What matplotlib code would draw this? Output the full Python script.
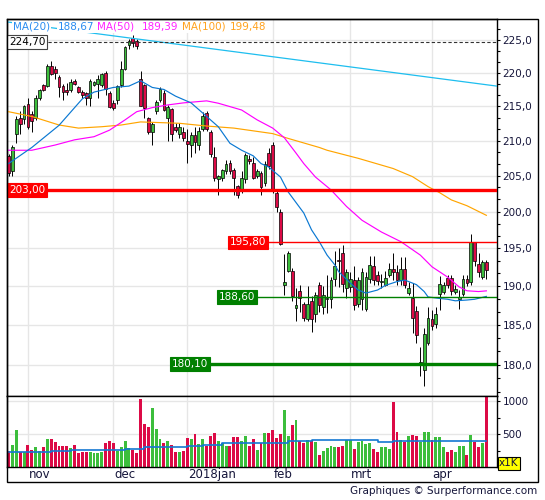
import numpy as np
import matplotlib
matplotlib.use("Agg")
import matplotlib.pyplot as plt
from matplotlib import transforms
from matplotlib.ticker import FixedLocator, FuncFormatter, NullFormatter
from matplotlib.patches import Rectangle

# daily candles 25 okt 2017 .. 23 apr 2018
opens = [207.8, 205.6, 210.9, 213.3, 213.1, 215.4, 213.8, 213.3, 216.2, 218.2,
         218.0, 221.0, 220.6, 219.4, 218.0, 217.4, 217.4, 218.8, 217.8, 217.1,
         216.9, 216.2, 218.2, 218.3, 218.2, 220.0, 216.9, 215.5, 215.9, 218.1,
         220.6, 224.3, 225.3, 224.9, 219.1, 218.2, 213.3, 211.2, 214.3, 215.9,
         217.0, 213.3, 214.6, 212.0, 210.9, 211.3, 210.0, 209.3, 210.8, 209.3,
         211.7, 214.0, 211.2, 207.7, 204.5, 204.6, 205.6, 206.8, 205.8, 203.5,
         203.0, 204.5, 207.3, 206.8, 204.9, 205.4, 204.0, 208.2, 209.3, 202.6,
         200.0, 190.1, 192.0, 192.0, 187.2, 189.4, 187.7, 185.8, 188.1, 186.4,
         190.1, 187.3, 188.3, 188.3, 191.0, 193.5, 194.4, 189.7, 189.9, 190.8,
         187.7, 188.3, 187.0, 191.0, 192.6, 191.5, 190.5, 190.2, 191.5, 192.2,
         191.8, 190.8, 192.3, 189.1, 188.4, 186.8, 180.0, 179.4, 182.7, 185.7,
         185.1, 189.0, 189.2, 191.1, 191.1, 189.2, 188.3, 189.0, 191.0, 190.6,
         195.8, 192.9, 191.2, 193.2]
highs = [208.1, 209.4, 213.6, 214.3, 215.2, 216.2, 214.3, 216.7, 217.6, 218.3,
         221.3, 221.8, 221.1, 219.6, 218.3, 218.5, 219.1, 219.1, 218.0, 217.4,
         217.1, 219.1, 218.8, 219.6, 220.0, 220.2, 217.3, 215.9, 218.2, 221.8,
         224.1, 225.1, 225.8, 225.1, 220.2, 218.3, 213.4, 212.7, 216.0, 217.8,
         217.4, 215.2, 214.7, 212.6, 212.6, 211.9, 211.6, 211.2, 211.9, 211.9,
         214.2, 214.3, 211.5, 209.1, 205.1, 206.0, 207.2, 207.2, 206.1, 203.7,
         205.6, 208.2, 207.9, 207.7, 205.9, 205.7, 207.0, 208.9, 209.8, 203.0,
         200.3, 194.3, 194.7, 192.4, 189.7, 190.1, 188.0, 190.0, 188.7, 189.3,
         190.5, 190.0, 191.5, 191.2, 194.6, 195.0, 195.4, 192.3, 191.8, 192.7,
         191.2, 192.4, 191.9, 194.0, 194.0, 192.0, 191.6, 192.0, 193.0, 194.4,
         192.8, 193.8, 193.8, 190.5, 190.4, 187.4, 182.2, 184.6, 187.3, 186.9,
         187.3, 191.3, 190.5, 191.5, 191.5, 190.2, 189.5, 191.5, 191.4, 196.9,
         195.8, 194.4, 193.4, 193.4]
lows = [204.9, 205.0, 209.6, 211.0, 212.4, 211.6, 211.2, 213.0, 216.0, 217.2,
        217.8, 219.6, 219.1, 216.4, 215.9, 216.7, 217.1, 218.1, 216.9, 216.2,
        215.2, 215.0, 218.0, 216.2, 217.9, 216.6, 214.7, 214.4, 215.4, 217.8,
        220.4, 223.6, 224.0, 223.6, 215.0, 213.3, 211.0, 209.3, 213.8, 215.7,
        214.3, 210.0, 210.0, 211.3, 210.3, 210.0, 206.8, 207.6, 208.2, 208.6,
        211.4, 211.4, 207.7, 204.2, 202.3, 204.2, 205.2, 205.2, 202.3, 201.8,
        202.5, 203.9, 206.7, 204.5, 204.7, 202.3, 203.6, 205.9, 202.5, 199.9,
        195.4, 188.9, 191.8, 188.1, 185.5, 186.6, 185.5, 185.5, 184.1, 185.4,
        186.6, 186.4, 186.5, 187.2, 190.0, 189.9, 189.3, 188.5, 189.3, 186.9,
        187.3, 186.9, 186.8, 190.4, 190.1, 190.1, 189.8, 190.0, 191.2, 190.8,
        190.2, 190.2, 189.8, 188.9, 184.0, 182.7, 178.6, 177.4, 182.5, 184.4,
        184.6, 186.9, 189.0, 189.8, 188.9, 189.0, 187.0, 188.7, 190.0, 190.1,
        192.7, 191.2, 190.9, 191.0]
closes = [205.4, 209.0, 213.2, 212.4, 215.0, 211.9, 212.8, 216.2, 217.4, 217.4,
          221.1, 219.8, 219.9, 217.9, 217.1, 217.1, 218.6, 218.3, 217.1, 216.6,
          216.2, 218.8, 218.6, 219.1, 219.8, 217.5, 214.9, 214.7, 218.0, 220.6,
          223.9, 224.8, 224.6, 224.1, 215.1, 214.7, 211.3, 212.4, 215.7, 217.6,
          214.4, 214.9, 211.0, 211.5, 212.0, 210.3, 209.5, 210.8, 209.8, 211.4,
          213.5, 211.7, 208.0, 204.6, 204.9, 205.8, 206.6, 205.6, 204.7, 202.3,
          204.7, 207.9, 207.1, 204.6, 205.6, 203.4, 206.6, 206.4, 202.8, 200.6,
          195.6, 190.5, 194.4, 188.7, 187.6, 188.5, 185.9, 187.7, 185.8, 188.9,
          187.5, 188.9, 188.5, 190.8, 192.7, 193.3, 190.3, 191.9, 191.0, 187.5,
          190.8, 191.9, 191.2, 192.8, 190.8, 190.7, 190.7, 191.1, 192.3, 191.8,
          190.8, 192.3, 190.1, 189.7, 185.9, 183.7, 180.3, 183.8, 185.9, 184.9,
          186.4, 190.3, 190.1, 190.1, 189.4, 189.6, 188.6, 191.0, 190.4, 195.8,
          193.3, 191.8, 193.2, 192.1]
# volume in thousands
volumes = [247, 338, 565, 222, 222, 338, 263, 298, 247, 308,
           429, 429, 374, 323, 323, 323, 288, 338, 207, 222,
           232, 222, 207, 207, 232, 364, 399, 359, 237, 308,
           389, 288, 258, 207, 1040, 662, 611, 904, 586, 434,
           359, 389, 338, 232, 222, 237, 439, 434, 510, 348,
           434, 313, 475, 520, 399, 364, 323, 323, 460, 460,
           389, 475, 313, 424, 263, 359, 520, 520, 566, 449,
           510, 869, 475, 641, 717, 389, 359, 409, 389, 374,
           187, 247, 288, 323, 308, 298, 323, 409, 409, 273,
           374, 389, 348, 359, 273, 222, 308, 308, 273, 995,
           540, 409, 374, 475, 490, 475, 374, 540, 540, 409,
           460, 460, 298, 222, 263, 222, 323, 313, 187, 490,
           374, 298, 359, 1150]
vavg_idx = [0, 11, 16, 30, 35, 46, 50, 55, 62, 72, 78, 95, 99, 123]
vavg_val = [222, 242, 263, 273, 298, 323, 338, 359, 366, 389, 409, 385, 400, 400]

ma20_idx = [0, 6, 13, 19, 22, 27, 31, 34, 37, 40, 43, 47, 50, 54, 57, 60, 63, 65, 67, 70,
            72, 76, 78, 80, 82, 84, 85, 88, 90, 92, 95, 97, 100, 102, 105, 107, 108, 111,
            113, 115, 118, 120, 123]
ma20_val = [206.7, 209.0, 212.2, 216.1, 217.1, 217.8, 218.0, 218.8, 217.8, 217.5, 216.5, 215.5,
            214.0, 212.0, 209.6, 208.6, 207.8, 206.7, 206.2, 204.8, 202.7, 199.8, 197.5, 195.9,
            194.1, 192.8, 191.9, 190.4, 189.5, 189.1, 189.5, 190.1, 190.6, 190.8, 190.2, 189.3,
            188.6, 188.4, 188.3, 188.1, 188.2, 188.3, 188.67]
ma50_idx = [0, 6, 12, 17, 22, 26, 30, 33, 37, 41, 45, 51, 54, 60, 64, 68, 71, 74, 76, 79,
            83, 87, 91, 96, 101, 106, 109, 113, 116, 118, 121, 123]
ma50_val = [208.6, 208.6, 209.35, 210.1, 210.55, 211.5, 213.0, 214.2, 214.8, 215.2, 215.5,
            215.8, 215.45, 214.45, 213.0, 211.8, 210.4, 208.2, 206.7, 204.8, 203.0, 200.7,
            198.8, 197.2, 195.9, 194.1, 192.55, 191.2, 189.9, 189.4, 189.3, 189.39]
ma100_idx = [0, 6, 13, 18, 24, 29, 34, 39, 44, 51, 58, 63, 68, 72, 80, 82, 90, 99, 104,
             108, 111, 114, 118, 123]
ma100_val = [214.2, 213.5, 212.25, 211.8, 212.0, 212.25, 212.7, 212.6, 212.5, 212.1, 211.8,
             211.4, 211.0, 210.3, 209.0, 208.6, 207.45, 206.0, 204.85, 203.45, 202.6, 201.6,
             200.8, 199.48]

trend_idx = [0, 125.7]
trend_val = [227.8, 218.0]

month_idx = [5, 27, 46, 68, 88, 109]
month_labels = ["nov", "dec", "2018jan", "feb", "mrt", "apr"]
price_ticks = [180, 185, 190, 195, 200, 205, 210, 215, 220, 225]

W, H = 545, 500
navy = "#15153a"
green = "#3cbe3c"
red = "#dc0a46"

fig = plt.figure(figsize=(W / 100, H / 100), dpi=100)


def rect(x0, y0, x1, y1):
    return [x0 / W, 1 - y1 / H, (x1 - x0) / W, (y1 - y0) / H]


ax = fig.add_axes(rect(7, 19.3, 497, 396))
axv = fig.add_axes(rect(7, 396, 497, 467), sharex=ax)

idx = np.arange(len(opens))
o = np.array(opens)
h = np.array(highs)
l = np.array(lows)
c = np.array(closes)
up = c >= o
cols = np.where(up, green, red)

# candles
ax.vlines(idx, l, h, color="black", lw=0.7, zorder=3)
ax.bar(idx, np.maximum(np.abs(c - o), 0.15), bottom=np.minimum(o, c), width=0.72,
       color=cols, edgecolor="black", linewidth=0.5, zorder=4)

# moving averages + trend line
ax.plot(ma100_idx, ma100_val, color="#ffa500", lw=0.85, zorder=5)
ax.plot(ma50_idx, ma50_val, color="#ff00ff", lw=0.85, zorder=5)
ax.plot(ma20_idx, ma20_val, color="#0a78d2", lw=0.85, zorder=5)
ax.plot(trend_idx, trend_val, color="#1ebeef", lw=0.9, zorder=5)

# levels
right_end = 125.74
ax.hlines(224.7, 0, right_end, color="#333333", lw=0.8, linestyles=(0, (3, 2)), zorder=6)
ax.hlines(203.0, 0, right_end, color="#ff0000", lw=2.4, zorder=6)
ax.hlines(195.8, 56.5, right_end, color="#ff0000", lw=1.0, zorder=6)
ax.hlines(188.6, 53.7, right_end, color="#008000", lw=1.0, zorder=6)
ax.hlines(180.1, 41.6, right_end, color="#008000", lw=2.4, zorder=6)

box_kw = dict(fontsize=7.5, ha="left", va="center", zorder=10)
ax.text(0.15, 224.7, "224,70", color="black",
        bbox=dict(fc="white", ec="#444444", lw=0.8, pad=1.2), **box_kw)
ax.text(0.15, 203.0, "203,00", color="white",
        bbox=dict(fc="#ff0000", ec="#ff0000", lw=0.8, pad=1.2), **box_kw)
ax.text(57.0, 195.8, "195,80", color="white",
        bbox=dict(fc="#ff0000", ec="#ff0000", lw=0.8, pad=1.2), **box_kw)
ax.text(54.2, 188.6, "188,60", color="white",
        bbox=dict(fc="#008000", ec="#008000", lw=0.8, pad=1.2), **box_kw)
ax.text(42.1, 180.1, "180,10", color="white",
        bbox=dict(fc="#008000", ec="#008000", lw=0.8, pad=1.2), **box_kw)

# legend pieces
leg = [(12.7, "MA(20)", "#2a8cf0"), (58, "188,67", "#2a8cf0"),
       (97, "MA(50)", "#ff22ff"), (142, "189,39", "#ff22ff"),
       (182, "MA(100)", "#ffa21e"), (230, "199,48", "#ffa21e")]
for xp, txt, col in leg:
    fig.text(xp / W, 1 - 26.7 / H, txt, color=col, fontsize=7.5, ha="left", va="center",
             bbox=dict(fc="white", ec="none", pad=0.8))

ax.set_xlim(-0.39, right_end)
ax.set_yscale("log")
ax.set_ylim(176.19, 228.24)
ax.yaxis.set_major_locator(FixedLocator(price_ticks))
ax.yaxis.set_major_formatter(FuncFormatter(lambda v, p: f"{v:.1f}".replace(".", ",")))
minor = [t + k * 5 / 3 for t in [175] + price_ticks for k in (1, 2)]
ax.yaxis.set_minor_locator(FixedLocator(minor))
ax.yaxis.set_minor_formatter(NullFormatter())
ax.yaxis.tick_right()
ax.tick_params(axis="y", which="both", direction="out", length=2.5, width=0.8,
               labelsize=7.5, labelcolor=navy, pad=1.5)
ax.set_xticks(month_idx)
ax.tick_params(axis="x", length=0, labelbottom=False)
ax.grid(True, which="major", color="#e6e6e6", lw=1.0)
ax.set_axisbelow(True)

# volume
axv.bar(idx, volumes, width=0.75, color=cols, lw=0, zorder=2)
axv.step(vavg_idx, vavg_val, where="post", color="#1478d2", lw=1.2, zorder=3)
axv.set_ylim(0, 1083)
axv.yaxis.tick_right()
axv.set_yticks([500, 1000])
axv.set_yticks([250, 750], minor=True)
axv.tick_params(axis="y", which="both", direction="out", length=2.5, width=0.8,
                labelsize=7.5, labelcolor=navy, pad=1.5)
axv.tick_params(axis="x", length=0, labelbottom=False)
axv.grid(True, which="major", color="#e6e6e6", lw=1.0)
axv.set_axisbelow(True)

for a in (ax, axv):
    for s in a.spines.values():
        s.set_color("black")
        s.set_linewidth(1.0)

trans = transforms.blended_transform_factory(axv.transData, fig.transFigure)
for mi, lab in zip(month_idx, month_labels):
    axv.text(mi + 0.2, 1 - 474.5 / H, lab, transform=trans, ha="left", va="center",
             fontsize=8.5, color=navy)

fig.text(499 / W, 1 - 463.5 / H, "x1K", ha="left", va="center", fontsize=7.5, color=navy,
         bbox=dict(fc="#ffff00", ec="black", lw=0.8, pad=1.0))
fig.text(537 / W, 1 - 491 / H, "Graphiques \u00a9 Surperformance.com", ha="right",
         va="center", fontsize=7.5, color=navy)

fig.add_artist(Rectangle((7 / W, 1 - 482 / H), 531 / W, (482 - 19.3) / H,
                         transform=fig.transFigure, fill=False, ec="black", lw=1.0))

fig.savefig("out.png", dpi=100)
